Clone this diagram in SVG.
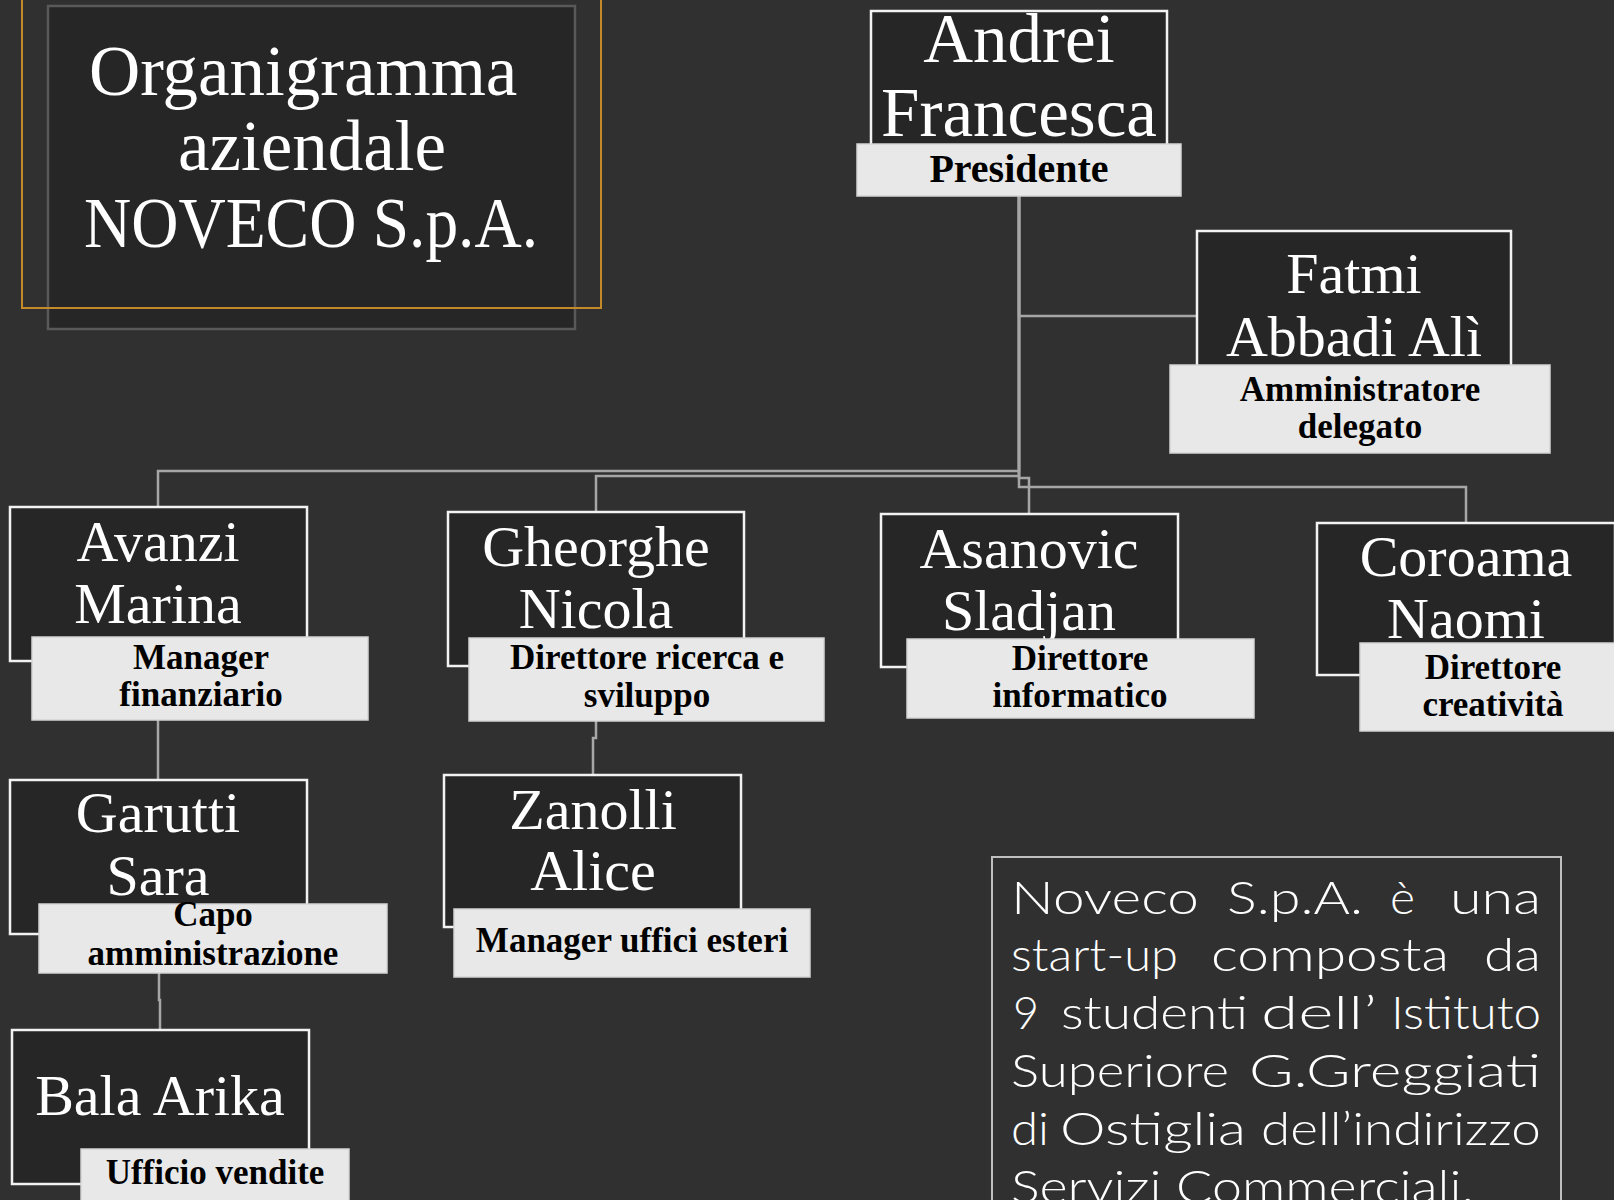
<svg xmlns="http://www.w3.org/2000/svg" width="1614" height="1200" viewBox="0 0 1614 1200">
<style>
.bg{fill:#303030}
.node{fill:#262626;stroke:#f2f2f2;stroke-width:2.5}
.lbl{fill:#e8e8e8;stroke:#d4d4d4;stroke-width:1.5}
.name{font-family:"Liberation Serif",serif;fill:#ffffff;text-anchor:middle;font-size:58px}
.role{font-family:"Liberation Serif",serif;font-weight:bold;fill:#000000;text-anchor:middle;font-size:35px}
.conn{fill:none;stroke:#a6a6a6;stroke-width:2.5}
.desc text{font-family:Lato,"Open Sans",sans-serif;font-weight:300;fill:#ffffff;font-size:46px}
</style>
<rect class="bg" x="0" y="0" width="1614" height="1200"/>

<g id="title">
  <rect x="48" y="6" width="527" height="323" fill="#262626" stroke="#595959" stroke-width="2.5"/>
  <rect x="22" y="-10" width="579" height="318" fill="none" stroke="#c48a2a" stroke-width="2"/>
  <text font-family="Liberation Serif,serif" font-size="71" fill="#fff" text-anchor="middle">
    <tspan x="312" y="95">Organigramma</tspan>
    <tspan x="312" y="170">aziendale</tspan>
  </text>
  <text font-family="Liberation Serif,serif" font-size="71" fill="#fff" x="84" y="247" textLength="454" lengthAdjust="spacingAndGlyphs">NOVECO S.p.A.</text>
</g>

<g id="connectors">
  <path class="conn" d="M1019 196 V316 H1197"/>
  <path class="conn" d="M1019 196 V471 H158 V507"/>
  <path class="conn" d="M1019 196 V476 H596 V512"/>
  <path class="conn" d="M1019 196 V478 H1029 V514"/>
  <path class="conn" d="M1019 196 V487 H1466 V523"/>
  <path class="conn" d="M158 720 V780"/>
  <path class="conn" d="M159 973 V1000 H160 V1030"/>
  <path class="conn" d="M596 721 V738 H593 V775"/>
</g>

<g id="andrei">
  <rect class="node" x="871" y="11" width="296" height="154"/>
  <text class="name" style="font-size:69px"><tspan x="1019" y="62">Andrei</tspan><tspan x="1019" y="136">Francesca</tspan></text>
  <rect class="lbl" x="857" y="144" width="324" height="52"/>
  <text class="role" style="font-size:40px" x="1019" y="182">Presidente</text>
</g>

<g id="fatmi">
  <rect class="node" x="1197" y="231" width="314" height="170"/>
  <text class="name"><tspan x="1354" y="293">Fatmi</tspan><tspan x="1354" y="356">Abbadi Alì</tspan></text>
  <rect class="lbl" x="1170" y="365" width="380" height="88"/>
  <text class="role"><tspan x="1360" y="401">Amministratore</tspan><tspan x="1360" y="438">delegato</tspan></text>
</g>

<g id="avanzi">
  <rect class="node" x="10" y="507" width="297" height="154"/>
  <text class="name"><tspan x="158" y="561">Avanzi</tspan><tspan x="158" y="623">Marina</tspan></text>
  <rect class="lbl" x="32" y="637" width="336" height="83"/>
  <text class="role"><tspan x="201" y="669">Manager</tspan><tspan x="201" y="706">finanziario</tspan></text>
</g>

<g id="gheorghe">
  <rect class="node" x="448" y="512" width="296" height="154"/>
  <text class="name"><tspan x="596" y="566">Gheorghe</tspan><tspan x="596" y="628">Nicola</tspan></text>
  <rect class="lbl" x="469" y="638" width="355" height="83"/>
  <text class="role"><tspan x="647" y="669">Direttore ricerca e</tspan><tspan x="647" y="707">sviluppo</tspan></text>
</g>

<g id="asanovic">
  <rect class="node" x="881" y="514" width="297" height="153"/>
  <text class="name"><tspan x="1029" y="568">Asanovic</tspan><tspan x="1029" y="630">Sladjan</tspan></text>
  <rect class="lbl" x="907" y="639" width="347" height="79"/>
  <text class="role"><tspan x="1080" y="670">Direttore</tspan><tspan x="1080" y="707">informatico</tspan></text>
</g>

<g id="coroama">
  <rect class="node" x="1317" y="523" width="298" height="152"/>
  <text class="name"><tspan x="1466" y="576">Coroama</tspan><tspan x="1466" y="638">Naomi</tspan></text>
  <rect class="lbl" x="1360" y="643" width="347" height="88"/>
  <text class="role"><tspan x="1493" y="679">Direttore</tspan><tspan x="1493" y="716">creatività</tspan></text>
</g>

<g id="garutti">
  <rect class="node" x="10" y="780" width="297" height="154"/>
  <text class="name"><tspan x="158" y="832">Garutti</tspan><tspan x="158" y="895">Sara</tspan></text>
  <rect class="lbl" x="39" y="904" width="348" height="69"/>
  <text class="role"><tspan x="213" y="926">Capo</tspan><tspan x="213" y="965">amministrazione</tspan></text>
</g>

<g id="zanolli">
  <rect class="node" x="444" y="775" width="297" height="152"/>
  <text class="name"><tspan x="593" y="829">Zanolli</tspan><tspan x="593" y="890">Alice</tspan></text>
  <rect class="lbl" x="454" y="909" width="356" height="68"/>
  <text class="role" x="632" y="952">Manager uffici esteri</text>
</g>

<g id="bala">
  <rect class="node" x="12" y="1030" width="297" height="154"/>
  <text class="name" x="160" y="1115">Bala Arika</text>
  <rect class="lbl" x="81" y="1149" width="268" height="60"/>
  <text class="role" x="215" y="1184">Ufficio vendite</text>
</g>

<g id="description">
  <rect x="992" y="857" width="569" height="360" fill="none" stroke="#bfbfbf" stroke-width="2"/>
  <g class="desc">
    <text x="1011" y="914" textLength="188" lengthAdjust="spacingAndGlyphs">Noveco</text>
    <text x="1227" y="914" textLength="136" lengthAdjust="spacingAndGlyphs">S.p.A.</text>
    <text x="1390" y="914" textLength="25" lengthAdjust="spacingAndGlyphs">è</text>
    <text x="1450" y="914" textLength="91" lengthAdjust="spacingAndGlyphs">una</text>

    <text x="1011" y="971" textLength="167" lengthAdjust="spacingAndGlyphs">start-up</text>
    <text x="1211" y="971" textLength="238" lengthAdjust="spacingAndGlyphs">composta</text>
    <text x="1484" y="971" textLength="57" lengthAdjust="spacingAndGlyphs">da</text>

    <text x="1013" y="1029" textLength="26" lengthAdjust="spacingAndGlyphs">9</text>
    <text x="1061" y="1029" textLength="187" lengthAdjust="spacingAndGlyphs">studenti</text>
    <text x="1261" y="1029" textLength="116" lengthAdjust="spacingAndGlyphs">dell’</text>
    <text x="1391" y="1029" textLength="150" lengthAdjust="spacingAndGlyphs">Istituto</text>

    <text x="1011" y="1087" textLength="218" lengthAdjust="spacingAndGlyphs">Superiore</text>
    <text x="1249" y="1087" textLength="292" lengthAdjust="spacingAndGlyphs">G.Greggiati</text>

    <text x="1011" y="1145" textLength="38" lengthAdjust="spacingAndGlyphs">di</text>
    <text x="1060" y="1145" textLength="186" lengthAdjust="spacingAndGlyphs">Ostiglia</text>
    <text x="1261" y="1145" textLength="280" lengthAdjust="spacingAndGlyphs">dell’indirizzo</text>

    <text x="1011" y="1203" textLength="463" lengthAdjust="spacingAndGlyphs">Servizi Commerciali.</text>
  </g>
</g>
</svg>
